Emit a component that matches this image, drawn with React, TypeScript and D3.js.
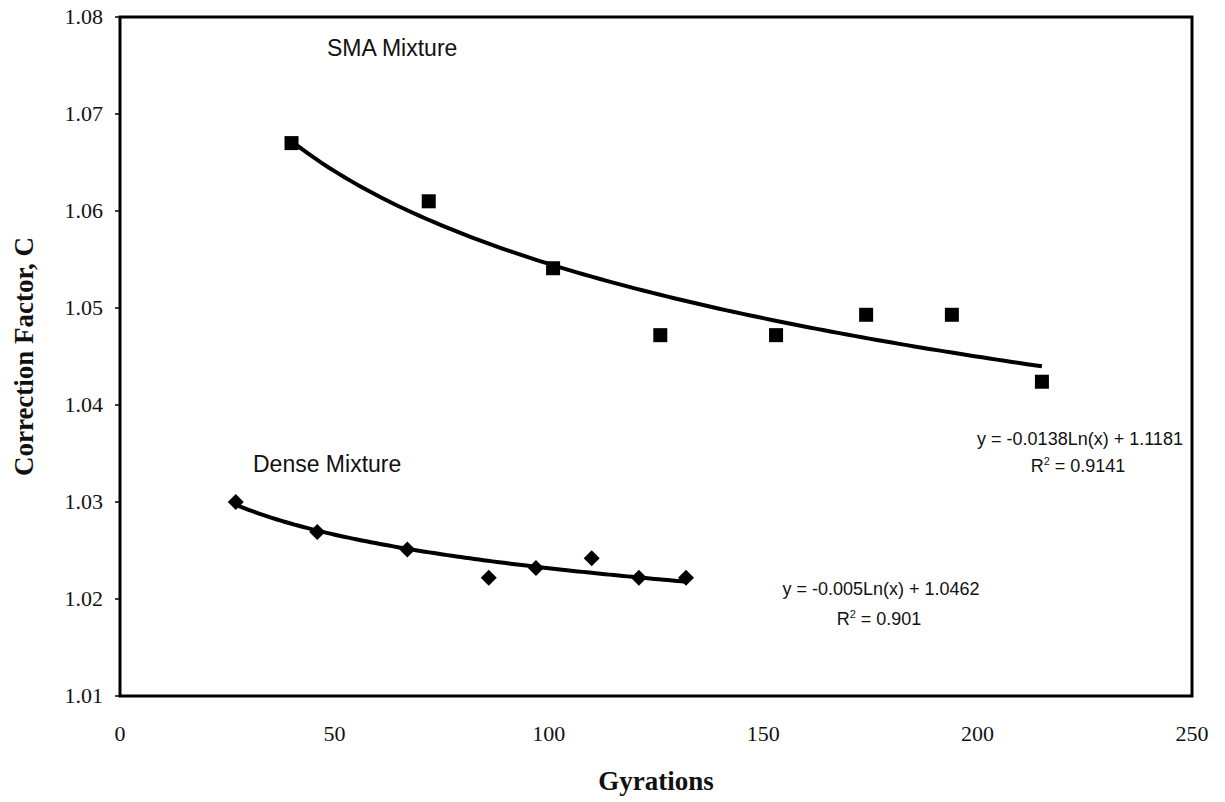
import React from "react";
import * as d3 from "d3";

const W = 1225;
const H = 802;

const smaX = [40, 72, 101, 126, 153, 174, 194, 215];
const smaY = [1.067, 1.061, 1.0541, 1.0472, 1.0472, 1.0493, 1.0493, 1.0424];
const denseX = [27, 46, 67, 86, 97, 110, 121, 132];
const denseY = [1.03, 1.0269, 1.0251, 1.0222, 1.0232, 1.0242, 1.0222, 1.0222];

const smaFit = { a: -0.0138, b: 1.1181, x0: 40, x1: 215 };
const denseFit = { a: -0.005, b: 1.0462, x0: 27, x1: 132 };

const xTicks = [0, 50, 100, 150, 200, 250];
const yTicks = [1.01, 1.02, 1.03, 1.04, 1.05, 1.06, 1.07, 1.08];

const serif = "'Liberation Serif', 'Times New Roman', serif";
const sans = "'Liberation Sans', Arial, sans-serif";

export default function App() {
  const left = 120, right = 1192, top = 17, bottom = 696;
  const x = d3.scaleLinear().domain([0, 250]).range([left, right]);
  const y = d3.scaleLinear().domain([1.01, 1.08]).range([bottom, top]);

  const fitPath = (f: { a: number; b: number; x0: number; x1: number }) => {
    const pts = d3.range(0, 101).map((i) => f.x0 + ((f.x1 - f.x0) * i) / 100);
    return d3
      .line<number>()
      .x((d) => x(d))
      .y((d) => y(f.a * Math.log(d) + f.b))(pts) as string;
  };

  const sq = 14;
  const dm = 8;

  return (
    <div style={{ position: "absolute", left: 0, top: 0 }}>
      <svg width={W} height={H} style={{ display: "block", background: "#fff" }}>
        <rect x={0} y={0} width={W} height={H} fill="#fff" />
        {/* y ticks */}
        {yTicks.map((t) => (
          <g key={"y" + t}>
            <line x1={left - 5} x2={left} y1={y(t)} y2={y(t)} stroke="#000" strokeWidth={1.5} />
            <text
              x={left - 17}
              y={y(t) + 7}
              textAnchor="end"
              fontFamily={serif}
              fontSize={22}
              fill="#111"
            >
              {t.toFixed(2)}
            </text>
          </g>
        ))}
        {/* x tick labels */}
        {xTicks.map((t) => (
          <text
            key={"x" + t}
            x={x(t)}
            y={741}
            textAnchor="middle"
            fontFamily={serif}
            fontSize={22}
            fill="#111"
          >
            {t}
          </text>
        ))}
        {/* frame */}
        <rect
          x={left}
          y={top}
          width={right - left}
          height={bottom - top}
          fill="none"
          stroke="#000"
          strokeWidth={3}
        />
        {/* fit curves */}
        <path d={fitPath(smaFit)} fill="none" stroke="#000" strokeWidth={4} />
        <path d={fitPath(denseFit)} fill="none" stroke="#000" strokeWidth={4} />
        {/* SMA squares */}
        {smaX.map((v, i) => (
          <rect
            key={"s" + i}
            x={x(v) - sq / 2}
            y={y(smaY[i]) - sq / 2}
            width={sq}
            height={sq}
            fill="#000"
          />
        ))}
        {/* Dense diamonds */}
        {denseX.map((v, i) => {
          const cx = x(v);
          const cy = y(denseY[i]);
          return (
            <path
              key={"d" + i}
              d={`M${cx},${cy - dm}L${cx + dm},${cy}L${cx},${cy + dm}L${cx - dm},${cy}Z`}
              fill="#000"
            />
          );
        })}
        {/* labels */}
        <text x={327} y={56} fontFamily={sans} fontSize={23} fill="#111">
          SMA Mixture
        </text>
        <text x={253} y={472} fontFamily={sans} fontSize={23} fill="#111">
          Dense Mixture
        </text>
        <text x={1080} y={445} textAnchor="middle" fontFamily={sans} fontSize={18} fill="#111">
          y = -0.0138Ln(x) + 1.1181
        </text>
        <text x={1078} y={472} textAnchor="middle" fontFamily={sans} fontSize={18} fill="#111">
          R<tspan dy={-7} fontSize={11}>2</tspan>
          <tspan dy={7}> = 0.9141</tspan>
        </text>
        <text x={881} y={595} textAnchor="middle" fontFamily={sans} fontSize={18} fill="#111">
          y = -0.005Ln(x) + 1.0462
        </text>
        <text x={879} y={625} textAnchor="middle" fontFamily={sans} fontSize={18} fill="#111">
          R<tspan dy={-7} fontSize={11}>2</tspan>
          <tspan dy={7}> = 0.901</tspan>
        </text>
        {/* axis titles */}
        <text
          x={(left + right) / 2}
          y={790}
          textAnchor="middle"
          fontFamily={serif}
          fontWeight="bold"
          fontSize={27}
          fill="#111"
        >
          Gyrations
        </text>
        <text
          transform={`translate(33, ${(top + bottom) / 2}) rotate(-90)`}
          textAnchor="middle"
          fontFamily={serif}
          fontWeight="bold"
          fontSize={27}
          fill="#111"
        >
          Correction Factor, C
        </text>
      </svg>
    </div>
  );
}
